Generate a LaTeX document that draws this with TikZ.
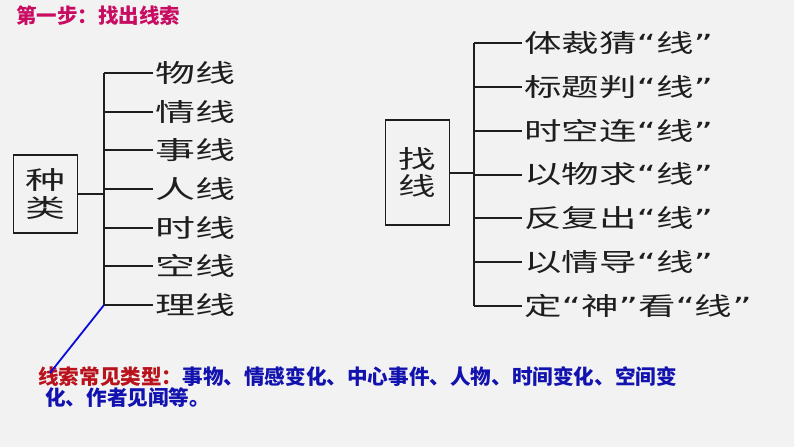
\documentclass[tikz,border=0pt]{standalone}
\usepackage{fontspec}
\usepackage{xcolor}
\usepackage{tikz}
\usetikzlibrary{positioning}
\newfontfamily\cjk{Noto Sans CJK SC}
\newfontfamily\cjkwide[FakeStretch=1.6]{Noto Sans CJK SC}
\newfontfamily\cjkmid[FakeStretch=1.5]{Noto Sans CJK SC}
\newfontfamily\qfont[FakeStretch=1.5]{DejaVu Sans}
\newcommand\inquote[1]{{\qfont “}#1{\qfont ”}}
\definecolor{pagebg}{RGB}{242,242,242}
\definecolor{inkline}{RGB}{30,30,30}
\definecolor{steptitle}{RGB}{200,12,98}
\definecolor{noteRed}{RGB}{185,18,28}
\definecolor{noteBlue}{RGB}{18,18,175}
\definecolor{pointer}{RGB}{10,10,220}

\begin{document}
\begin{tikzpicture}[
  x=1pt, y=-1pt,
  kbox/.style={draw=inkline, line width=1.3pt, align=center, inner sep=0pt, minimum width=64pt, text=inkline},
  leaf/.style={anchor=west, inner sep=2pt, text=inkline},
  tree/.style={draw=inkline, line width=2pt},
  note/.style={anchor=west, inner sep=0pt, font=\cjk\bfseries\fontsize{20.6}{22}\selectfont}
]
\fill[pagebg] (0,0) rectangle (794,447);
\useasboundingbox (0,0) rectangle (794,447);
\node[anchor=west, inner sep=0pt, text=steptitle, font=\cjk\bfseries\fontsize{20.5}{22}\selectfont] (title) at (16,16) {第一步：找出线索};
% left tree
\node[kbox, minimum height=78pt, font=\cjkwide\fontsize{25}{28}\selectfont] (kind) at (45.5,194) {种\\类};
\coordinate (ltop) at (104,73);
\coordinate (lbot) at (104,305);
\node[leaf, font=\cjkwide\fontsize{25}{28}\selectfont] (w1) at (153,73) {物线};
\node[leaf, font=\cjkwide\fontsize{25}{28}\selectfont] (w2) at (153,111.7) {情线};
\node[leaf, font=\cjkwide\fontsize{25}{28}\selectfont] (w3) at (153,150.3) {事线};
\node[leaf, font=\cjkwide\fontsize{25}{28}\selectfont] (w4) at (153,189) {人线};
\node[leaf, font=\cjkwide\fontsize{25}{28}\selectfont] (w5) at (153,227.7) {时线};
\node[leaf, font=\cjkwide\fontsize{25}{28}\selectfont] (w6) at (153,266.3) {空线};
\node[leaf, font=\cjkwide\fontsize{25}{28}\selectfont] (w7) at (153,305) {理线};
\draw[tree] (ltop) -- (lbot);
\draw[tree] (kind.east) -- (kind.east -| ltop);
\draw[tree] (w1.west -| ltop) -- (w1.west);
\draw[tree] (w2.west -| ltop) -- (w2.west);
\draw[tree] (w3.west -| ltop) -- (w3.west);
\draw[tree] (w4.west -| ltop) -- (w4.west);
\draw[tree] (w5.west -| ltop) -- (w5.west);
\draw[tree] (w6.west -| ltop) -- (w6.west);
\draw[tree] (w7.west -| ltop) -- (w7.west);
% right tree
\node[kbox, minimum height=105pt, font=\cjkmid\fontsize{25}{27}\selectfont] (find) at (417.5,172.5) {找\\线};
\coordinate (rtop) at (474,43);
\coordinate (rbot) at (474,306);
\node[leaf, font=\cjkmid\fontsize{25}{28}\selectfont] (z1) at (522,43) {体裁猜\inquote{线}};
\node[leaf, font=\cjkmid\fontsize{25}{28}\selectfont] (z2) at (522,86.8) {标题判\inquote{线}};
\node[leaf, font=\cjkmid\fontsize{25}{28}\selectfont] (z3) at (522,130.7) {时空连\inquote{线}};
\node[leaf, font=\cjkmid\fontsize{25}{28}\selectfont] (z4) at (522,174.5) {以物求\inquote{线}};
\node[leaf, font=\cjkmid\fontsize{25}{28}\selectfont] (z5) at (522,218.3) {反复出\inquote{线}};
\node[leaf, font=\cjkmid\fontsize{25}{28}\selectfont] (z6) at (522,262.2) {以情导\inquote{线}};
\node[leaf, font=\cjkmid\fontsize{25}{28}\selectfont] (z7) at (522,306) {定\inquote{神}看\inquote{线}};
\draw[tree] (rtop) -- (rbot);
\draw[tree] (find.east) -- (find.east -| rtop);
\draw[tree] (z1.west -| rtop) -- (z1.west);
\draw[tree] (z2.west -| rtop) -- (z2.west);
\draw[tree] (z3.west -| rtop) -- (z3.west);
\draw[tree] (z4.west -| rtop) -- (z4.west);
\draw[tree] (z5.west -| rtop) -- (z5.west);
\draw[tree] (z6.west -| rtop) -- (z6.west);
\draw[tree] (z7.west -| rtop) -- (z7.west);
% note below
\node[note] (note1) at (38,377) {\textcolor{noteRed}{线索常见类型：}\textcolor{noteBlue}{事物、情感变化、中心事件、人物、时间变化、空间变}};
\node[note, text=noteBlue] (note2) at (45,398) {化、作者见闻等。};
\coordinate (tail) at (50,373);
\draw[pointer, line width=1.8pt] (lbot) -- (tail);
\end{tikzpicture}
\end{document}
